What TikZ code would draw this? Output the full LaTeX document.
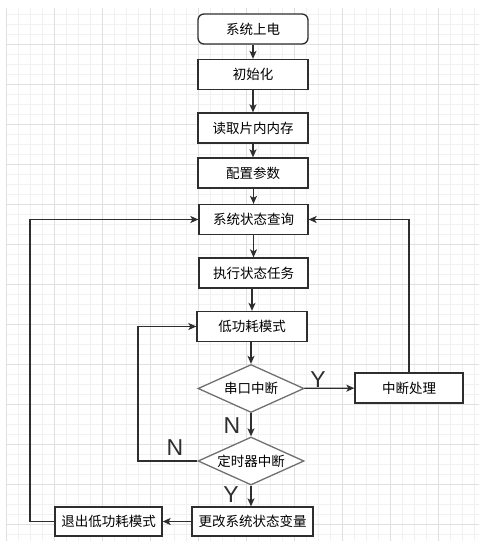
\documentclass[tikz,border=0pt]{standalone}
\usepackage{fontspec}
\newfontfamily\cjk{Noto Sans CJK SC}
\newfontfamily\latin{Liberation Sans}
\usetikzlibrary{shapes.geometric,arrows.meta}
\definecolor{gridminor}{HTML}{F1F1F1}
\definecolor{gridmajor}{HTML}{E0E0E0}
\definecolor{boxline}{HTML}{2E2E2E}
\definecolor{decline}{HTML}{707070}
\tikzset{
  stepbox/.style={draw=boxline, line width=1.3pt, fill=white, rectangle,
    minimum width=110pt, minimum height=30pt, inner sep=0pt,
    font=\cjk\fontsize{13.5}{16}\selectfont},
  startbox/.style={stepbox, rounded corners=6pt},
  decision/.style={draw=decline, line width=1.3pt, fill=white, diamond, aspect=2.2,
    minimum width=106pt, minimum height=48pt, inner sep=0pt,
    font=\cjk\fontsize{13.5}{16}\selectfont},
  flow/.style={draw=boxline, line width=1.3pt,
    -{Stealth[length=8pt,width=7pt,inset=2pt]}},
  branch/.style={font=\latin\fontsize{23}{26}\selectfont, inner sep=0pt, text=boxline}
}
\begin{document}
\begin{tikzpicture}[x=1pt, y=-1pt]
  \useasboundingbox (0,0) rectangle (479,551);
  \fill[white] (0,0) rectangle (479,551);
  % background grid
  \begin{scope}
    \clip (6,8) rectangle (479,541);
    \foreach \gx in {6,18,...,478} \draw[gridminor, line width=0.8pt] (\gx,8) -- (\gx,541);
    \foreach \gy in {4,14,...,544} \draw[gridminor, line width=0.8pt] (6,\gy) -- (479,\gy);
    \foreach \gx in {6,54,...,478} \draw[gridmajor, line width=0.8pt] (\gx,8) -- (\gx,541);
    \foreach \gy in {4,44,...,544} \draw[gridmajor, line width=0.8pt] (6,\gy) -- (479,\gy);
  \end{scope}

  % process steps
  \node[startbox] (power) at (253,29) {系统上电};
  \node[stepbox] (init) at (253,74.5) {初始化};
  \node[stepbox] (readmem) at (253,128) {读取片内内存};
  \node[stepbox] (config) at (253,173) {配置参数};
  \node[stepbox, minimum width=109pt] (query) at (253.5,219.5) {系统状态查询};
  \node[stepbox, minimum width=109pt] (task) at (253.5,273) {执行状态任务};
  \node[stepbox] (lowpow) at (252,326.5) {低功耗模式};
  \node[decision] (uart) at (251,388.5) {串口中断};
  \node[stepbox, minimum width=108pt] (isr) at (409,388) {中断处理};
  \node[decision] (timer) at (251,461) {定时器中断};
  \node[stepbox, minimum width=121pt, minimum height=29pt] (update) at (252.5,521.5) {更改系统状态变量};
  \node[stepbox, minimum width=107pt, minimum height=29pt] (exitlp) at (108.5,521.5) {退出低功耗模式};

  % main sequence
  \draw[flow] (power) -- (init);
  \draw[flow] (init) -- (readmem);
  \draw[flow] (readmem) -- (config);
  \draw[flow] (config.south -| query.north) -- (query.north);
  \draw[flow] (query) -- (task);
  \draw[flow] (task.south) -- (task.south -| lowpow.north) -- (lowpow.north);
  \draw[flow] (lowpow.south -| uart.north) -- (uart.north);
  \draw[flow] (uart) -- (isr);
  \draw[flow] (uart) -- (timer);
  \draw[flow] (timer.south) -- (timer.south |- update.north);
  \draw[flow] (update) -- (exitlp);

  % feedback paths
  \coordinate (timerloop) at (138,461);
  \coordinate (exitloop) at (30,521.5);
  \draw[flow] (timer.west) -- (timerloop) |- (lowpow.west);
  \draw[flow] (exitlp.west) -- (exitloop) |- (query.west);
  \draw[flow] (isr.north) |- (query.east);

  % branch labels
  \node[branch] (ylab1) at (318,380) {Y};
  \node[branch] (nlab1) at (232,426) {N};
  \node[branch] (nlab2) at (175,447.5) {N};
  \node[branch] (ylab2) at (231,495) {Y};
\end{tikzpicture}
\end{document}
